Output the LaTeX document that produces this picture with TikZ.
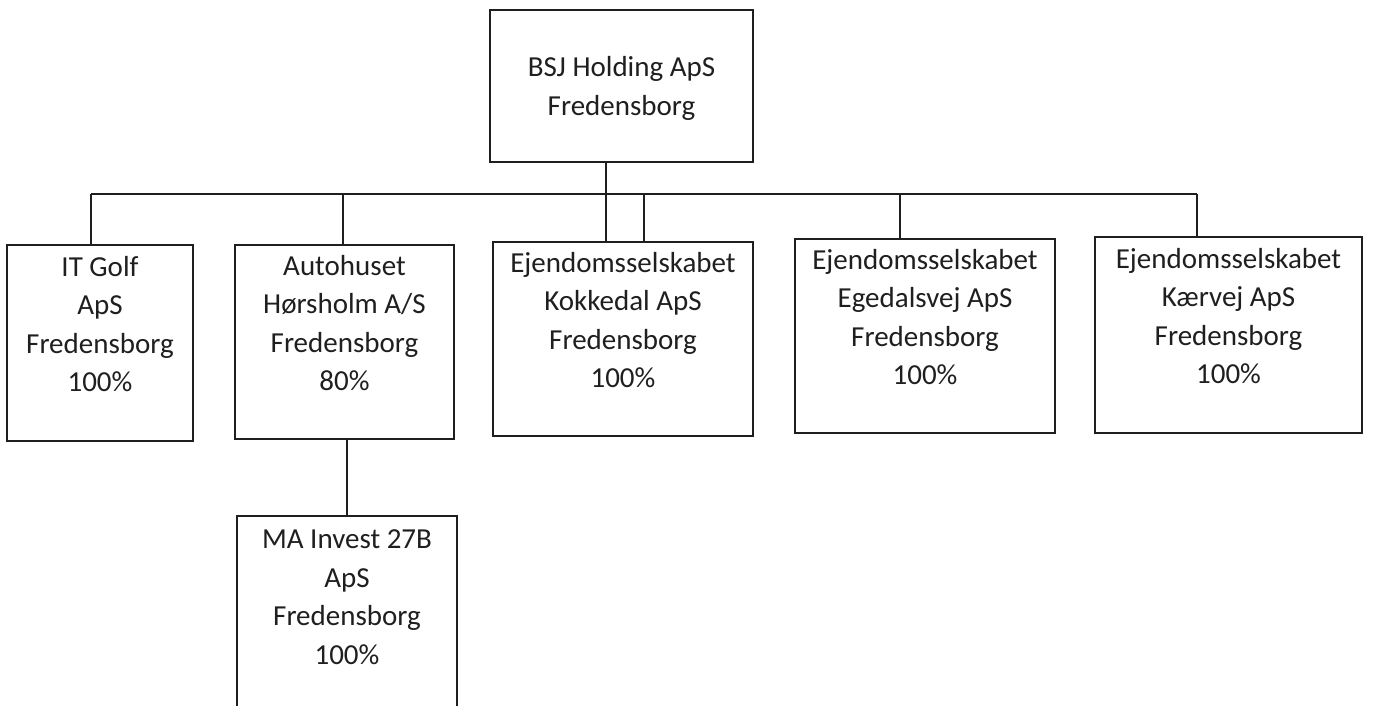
\documentclass[tikz,border=0pt]{standalone}
\usepackage{fontspec}
\setmainfont{Carlito}
\usetikzlibrary{calc}
\definecolor{ink}{gray}{0.12}

\tikzset{
  firm/.style={draw=ink, line width=1.8pt, text=ink, align=center, anchor=north,
    inner xsep=0pt, inner ysep=10pt, text depth=38pt,
    node font=\fontsize{29}{38.5}\selectfont},
  link/.style={draw=ink, line width=1.6pt},
}

\begin{document}
\begin{tikzpicture}[x=1pt, y=-1pt]
\useasboundingbox (0,0) rectangle (1373,706);
\clip (0,0) rectangle (1373,706);

% parent
\node[firm, anchor=center, text depth=0pt, minimum width=263pt, minimum height=152pt] (bsj) at (621.5,86) {BSJ Holding ApS\\Fredensborg};

% subsidiaries
\node[firm, minimum width=186pt, minimum height=196pt] (itgolf) at (100,244) {IT Golf\\ApS\\Fredensborg\\100\%};
\node[firm, minimum width=219pt, minimum height=194pt] (autohuset) at (344.5,244) {Autohuset\\Hørsholm A/S\\Fredensborg\\80\%};
\node[firm, minimum width=260pt, minimum height=194pt] (kokkedal) at (623,241) {Ejendomsselskabet\\Kokkedal ApS\\Fredensborg\\100\%};
\node[firm, minimum width=260pt, minimum height=194pt] (egedalsvej) at (925,238) {Ejendomsselskabet\\Egedalsvej ApS\\Fredensborg\\100\%};
\node[firm, minimum width=267pt, minimum height=196pt] (kaervej) at (1228.5,236) {Ejendomsselskabet\\Kærvej ApS\\Fredensborg\\100\%};
\node[firm, minimum width=220pt, minimum height=200pt] (mainvest) at (347,515) {MA Invest 27B\\ApS\\Fredensborg\\100\%};

% bus taps
\coordinate (t1) at (91,194);
\coordinate (t2) at (343,194);
\coordinate (t3) at (606,194);
\coordinate (t4) at (644,194);
\coordinate (t5) at (900,194);
\coordinate (t6) at (1197,194);

\draw[link] (t1) -- (t6);
\draw[link] (t3 |- bsj.south) -- (t3);
\draw[link] (t1) -- (t1 |- itgolf.north);
\draw[link] (t2) -- (t2 |- autohuset.north);
\draw[link] (t3) -- (t3 |- kokkedal.north);
\draw[link] (t4) -- (t4 |- kokkedal.north);
\draw[link] (t5) -- (t5 |- egedalsvej.north);
\draw[link] (t6) -- (t6 |- kaervej.north);
\draw[link] (autohuset.south -| mainvest.north) -- (mainvest.north);

\end{tikzpicture}
\end{document}
